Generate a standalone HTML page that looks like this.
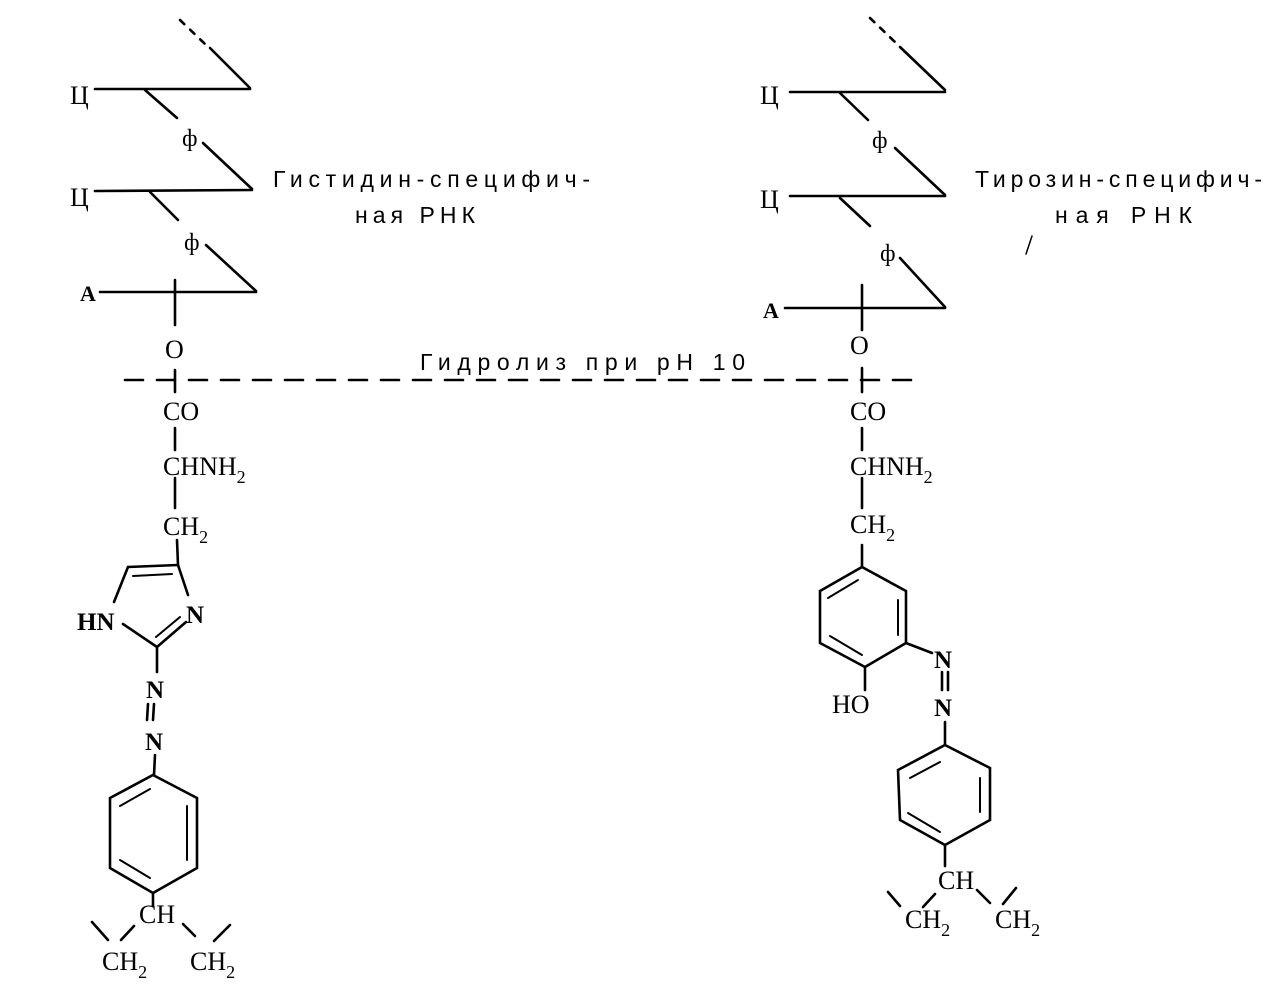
<!DOCTYPE html>
<html><head><meta charset="utf-8"><style>
html,body{margin:0;padding:0;background:#fff}
svg{display:block}
text{font-family:"Liberation Serif",serif;fill:#000}
.s{font-family:"Liberation Sans",sans-serif;font-size:23px}
</style></head><body>
<svg width="1272" height="984" viewBox="0 0 1272 984" xmlns="http://www.w3.org/2000/svg">
<g stroke="#000" stroke-width="2.6" fill="none" stroke-linecap="round">
<line x1="180" y1="20" x2="205" y2="44" stroke-dasharray="6,8"/>
<line x1="210" y1="48" x2="250" y2="88"/>
<line x1="95" y1="89" x2="250" y2="89"/>
<line x1="145" y1="90" x2="177" y2="118"/>
<line x1="203" y1="143" x2="252" y2="189"/>
<line x1="95" y1="191" x2="252" y2="190"/>
<line x1="150" y1="192" x2="178" y2="220"/>
<line x1="206" y1="245" x2="256" y2="291"/>
<line x1="100" y1="292" x2="256" y2="292"/>
<line x1="175" y1="280" x2="175" y2="325"/>
<line x1="175" y1="370" x2="175" y2="392"/>
<line x1="175" y1="428" x2="175" y2="450"/>
<line x1="175" y1="478" x2="175" y2="508"/>
<line x1="177" y1="540" x2="178" y2="565"/>
<line x1="128" y1="567" x2="178" y2="565"/>
<line x1="133" y1="576" x2="172" y2="574" stroke-width="2"/>
<line x1="128" y1="567" x2="114" y2="602"/>
<line x1="178" y1="565" x2="188" y2="595"/>
<line x1="123" y1="624" x2="157" y2="647"/>
<line x1="157" y1="647" x2="186" y2="622"/>
<line x1="156" y1="637" x2="180" y2="617" stroke-width="2"/>
<line x1="157" y1="648" x2="157" y2="672"/>
<line x1="148" y1="704" x2="147" y2="720"/>
<line x1="154" y1="704" x2="153" y2="720"/>
<line x1="155" y1="755" x2="154" y2="775"/>
<polygon points="153,775 197,798 197,868 153,893 110,868 110,798"/>
<line x1="120" y1="806" x2="150" y2="789" stroke-width="2"/>
<line x1="187" y1="806" x2="187" y2="860" stroke-width="2"/>
<line x1="120" y1="860" x2="150" y2="878" stroke-width="2"/>
<line x1="153" y1="893" x2="153" y2="906"/>
<line x1="92" y1="922" x2="108" y2="940"/>
<line x1="121" y1="940" x2="134" y2="926"/>
<line x1="183" y1="924" x2="195" y2="936"/>
<line x1="230" y1="925" x2="214" y2="941"/>
<line x1="125" y1="380" x2="920" y2="380" stroke-dasharray="18,14"/>
<line x1="870" y1="18" x2="895" y2="42" stroke-dasharray="6,8"/>
<line x1="900" y1="47" x2="945" y2="90"/>
<line x1="790" y1="92" x2="945" y2="92"/>
<line x1="840" y1="93" x2="868" y2="120"/>
<line x1="895" y1="148" x2="945" y2="195"/>
<line x1="790" y1="196" x2="945" y2="196"/>
<line x1="840" y1="198" x2="870" y2="226"/>
<line x1="900" y1="258" x2="945" y2="307"/>
<line x1="785" y1="308" x2="945" y2="308"/>
<line x1="862" y1="285" x2="862" y2="330"/>
<line x1="862" y1="368" x2="862" y2="392"/>
<line x1="862" y1="428" x2="862" y2="450"/>
<line x1="862" y1="478" x2="862" y2="508"/>
<line x1="862" y1="545" x2="862" y2="567"/>
<polygon points="862,567 906,591 906,643 865,667 820,643 820,591"/>
<line x1="828" y1="598" x2="858" y2="580" stroke-width="2"/>
<line x1="898" y1="600" x2="898" y2="635" stroke-width="2"/>
<line x1="830" y1="636" x2="862" y2="655" stroke-width="2"/>
<line x1="865" y1="667" x2="865" y2="690"/>
<line x1="906" y1="643" x2="932" y2="653"/>
<line x1="942" y1="672" x2="942" y2="690"/>
<line x1="948" y1="672" x2="948" y2="690"/>
<line x1="945" y1="722" x2="945" y2="745"/>
<polygon points="945,745 990,768 990,820 945,845 900,820 898,770"/>
<line x1="910" y1="778" x2="940" y2="762" stroke-width="2"/>
<line x1="980" y1="778" x2="980" y2="812" stroke-width="2"/>
<line x1="908" y1="813" x2="940" y2="832" stroke-width="2"/>
<line x1="945" y1="845" x2="945" y2="866"/>
<line x1="888" y1="892" x2="900" y2="906"/>
<line x1="923" y1="907" x2="935" y2="894"/>
<line x1="977" y1="890" x2="990" y2="903"/>
<line x1="1016" y1="888" x2="1003" y2="904"/>
<line x1="1032" y1="236" x2="1026" y2="254" stroke-width="1.5"/>
</g>
<g font-size="26">
<text x="70" y="104">Ц</text>
<text x="70" y="206">Ц</text>
<text x="80" y="301" font-family="Liberation Sans" font-weight="bold" font-size="22">A</text>
<text x="182" y="146" font-size="24">ф</text>
<text x="184" y="250" font-size="24">ф</text>
<text x="165" y="358">O</text>
<text x="163" y="420">CO</text>
<text x="163" y="475">CHNH<tspan font-size="18" dy="8">2</tspan></text>
<text x="163" y="535">CH<tspan font-size="18" dy="8">2</tspan></text>
<text x="77" y="630" font-weight="bold" font-size="25">HN</text>
<text x="186" y="623" font-weight="bold" font-size="25">N</text>
<text x="146" y="698" font-weight="bold" font-size="25">N</text>
<text x="145" y="750" font-weight="bold" font-size="25">N</text>
<text x="139" y="923">CH</text>
<text x="102" y="970">CH<tspan font-size="18" dy="8">2</tspan></text>
<text x="190" y="970">CH<tspan font-size="18" dy="8">2</tspan></text>
<text x="760" y="104">Ц</text>
<text x="760" y="208">Ц</text>
<text x="763" y="318" font-family="Liberation Sans" font-weight="bold" font-size="22">A</text>
<text x="872" y="148" font-size="24">ф</text>
<text x="880" y="261" font-size="24">ф</text>
<text x="850" y="354">O</text>
<text x="850" y="420">CO</text>
<text x="850" y="475">CHNH<tspan font-size="18" dy="8">2</tspan></text>
<text x="850" y="533">CH<tspan font-size="18" dy="8">2</tspan></text>
<text x="832" y="713">HO</text>
<text x="934" y="668" font-weight="bold" font-size="25">N</text>
<text x="934" y="716" font-weight="bold" font-size="25">N</text>
<text x="938" y="889">CH</text>
<text x="905" y="928">CH<tspan font-size="18" dy="8">2</tspan></text>
<text x="995" y="928">CH<tspan font-size="18" dy="8">2</tspan></text>
</g>
<text class="s" x="273" y="187" textLength="317" lengthAdjust="spacing">Гистидин-специфич-</text>
<text class="s" x="355" y="223" textLength="120" lengthAdjust="spacing">ная РНК</text>
<text class="s" x="975" y="187" textLength="287" lengthAdjust="spacing">Тирозин-специфич-</text>
<text class="s" x="1055" y="223" textLength="137" lengthAdjust="spacing">ная РНК</text>
<text class="s" x="420" y="370" textLength="325" lengthAdjust="spacing">Гидролиз при рН 10</text>
</svg>
</body></html>
